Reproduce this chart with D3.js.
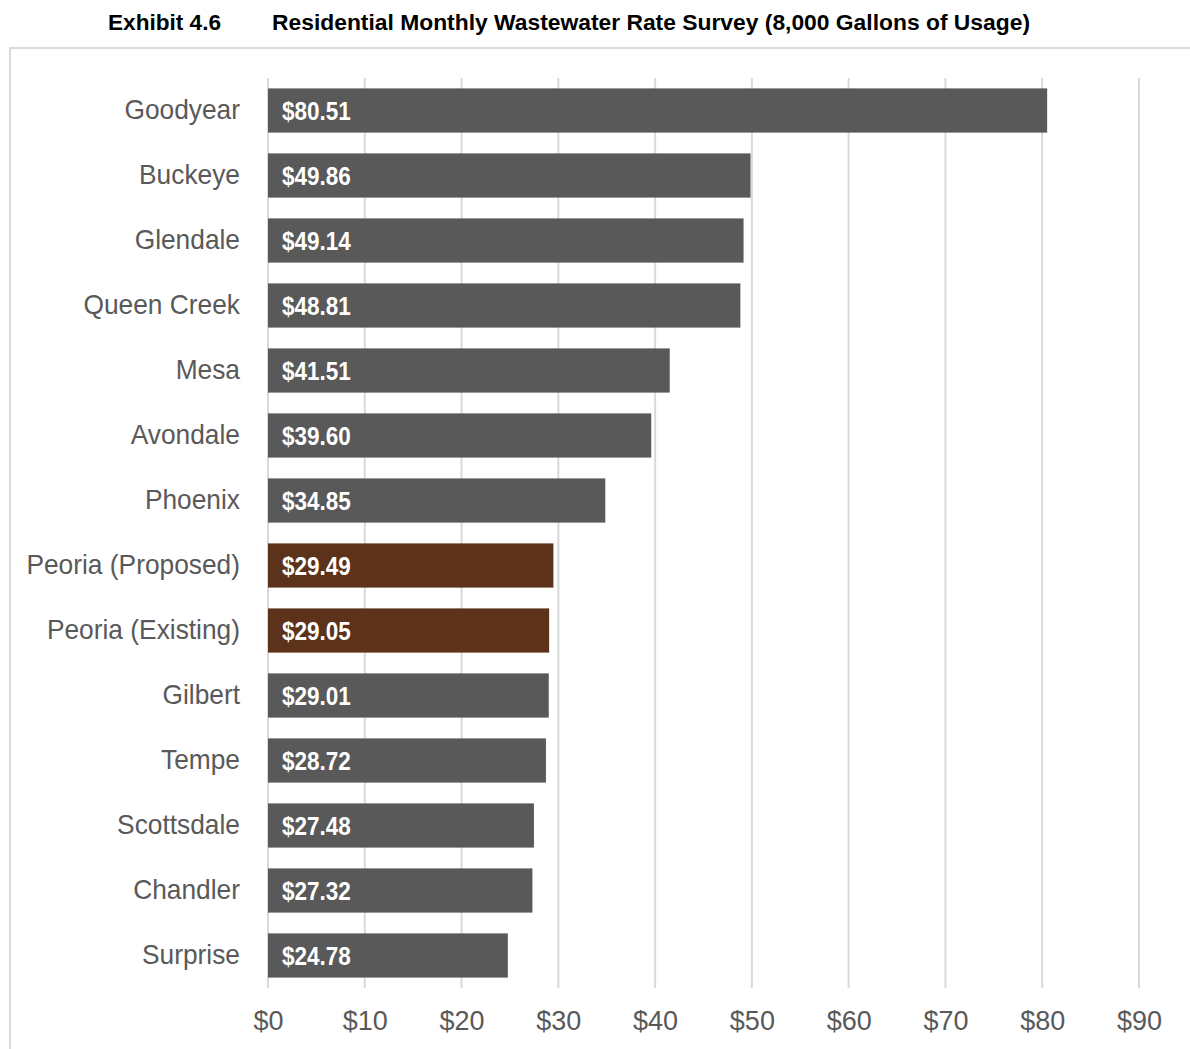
<!DOCTYPE html>
<html>
<head>
<meta charset="utf-8">
<script src="https://cdn.jsdelivr.net/npm/d3@7"></script>
<style>
  body { margin: 0; background: #fff; }
  text { font-family: "Liberation Sans", Arial, sans-serif; }
</style>
</head>
<body>
<svg id="chart" width="1190" height="1049"></svg>
<script>
// DATA
var cities = ["Goodyear", "Buckeye", "Glendale", "Queen Creek", "Mesa", "Avondale", "Phoenix",
              "Peoria (Proposed)", "Peoria (Existing)", "Gilbert", "Tempe", "Scottsdale", "Chandler", "Surprise"];
var rates = [80.51, 49.86, 49.14, 48.81, 41.51, 39.60, 34.85, 29.49, 29.05, 29.01, 28.72, 27.48, 27.32, 24.78];
var highlighted = ["Peoria (Proposed)", "Peoria (Existing)"];
var xTicks = [0, 10, 20, 30, 40, 50, 60, 70, 80, 90];

var svg = d3.select('#chart');

// TITLE
svg.append('text').attr('x', 108).attr('y', 30)
   .attr('textLength', 113).attr('lengthAdjust', 'spacingAndGlyphs')
   .style('font-size', '22px').style('font-weight', 'bold').style('fill', '#000')
   .text('Exhibit 4.6');
svg.append('text').attr('x', 272).attr('y', 30)
   .attr('textLength', 758).attr('lengthAdjust', 'spacingAndGlyphs')
   .style('font-size', '22px').style('font-weight', 'bold').style('fill', '#000')
   .text('Residential Monthly Wastewater Rate Survey (8,000 Gallons of Usage)');

// FRAME
svg.append('rect').attr('x', 10).attr('y', 48).attr('width', 1190).attr('height', 1100)
   .style('fill', 'none').style('stroke', '#d9d9d9').style('stroke-width', 2);

// SCALES
var x = d3.scaleLinear().domain([0, 90]).range([268, 1139]);
var y = d3.scaleBand().domain(cities).range([78, 988]).paddingInner(0.32).paddingOuter(0.16);

// GRIDLINES
svg.append('g').selectAll('line.grid')
   .data(xTicks).enter().append('line')
   .attr('x1', function(d) { return x(d); }).attr('x2', function(d) { return x(d); })
   .attr('y1', 78).attr('y2', 988)
   .style('stroke', '#d9d9d9').style('stroke-width', 2);

// X AXIS
var xAxis = svg.append('g').attr('transform', 'translate(0,988)')
   .call(d3.axisBottom(x).tickValues(xTicks).tickSize(0).tickPadding(23).tickFormat(function(d) { return '$' + d; }));
xAxis.select('.domain').remove();
xAxis.selectAll('text').style('font-size', '27px').style('fill', '#595959')
     .style('font-family', '"Liberation Sans", Arial, sans-serif');

// Y AXIS (labels slightly squeezed like the original)
var sx = 0.975;
var yAxis = svg.append('g').attr('transform', 'translate(268,0)')
   .call(d3.axisLeft(y).tickSize(0).tickPadding(27));
yAxis.select('.domain').remove();
yAxis.selectAll('text').style('font-size', '27px').style('fill', '#595959')
     .style('font-family', '"Liberation Sans", Arial, sans-serif')
     .attr('x', -28 / sx)
     .attr('transform', 'scale(' + sx + ',1)');

// BARS
svg.append('g').selectAll('rect.bar')
   .data(cities).enter().append('rect')
   .attr('class', 'bar')
   .attr('x', x(0))
   .attr('y', function(d) { return y(d); })
   .attr('width', function(d, i) { return x(rates[i]) - x(0); })
   .attr('height', y.bandwidth())
   .style('fill', function(d) { return highlighted.indexOf(d) >= 0 ? '#5c331a' : '#595959'; });

// VALUE LABELS
var vx = 0.9;
svg.append('g').selectAll('text.val')
   .data(cities).enter().append('text')
   .attr('transform', function(d) { return 'translate(' + (x(0) + 14) + ',' + (y(d) + y.bandwidth() / 2) + ') scale(' + vx + ',1)'; })
   .attr('dy', '0.36em')
   .style('font-size', '25px').style('font-weight', 'bold').style('fill', '#fff')
   .text(function(d, i) { return '$' + rates[i].toFixed(2); });
</script>
</body>
</html>
